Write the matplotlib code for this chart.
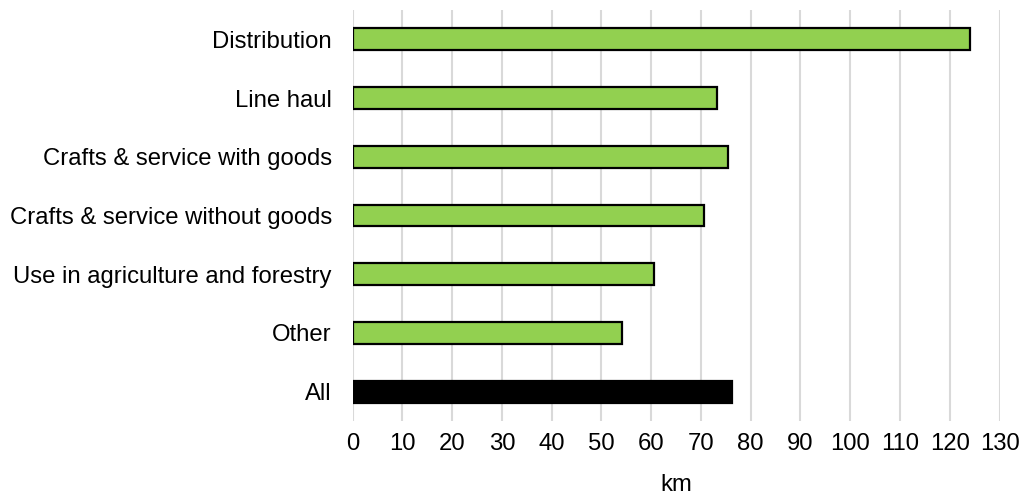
import matplotlib
matplotlib.use("Agg")
import matplotlib.pyplot as plt

categories = ["Distribution", "Line haul", "Crafts & service with goods",
              "Crafts & service without goods", "Use in agriculture and forestry",
              "Other", "All"]
values = [124, 73.3, 75.5, 70.6, 60.5, 54.2, 76.2]
colors = ["#92D050"] * 6 + ["#000000"]
xticks = list(range(0, 131, 10))

plt.rcParams['font.family'] = ['Liberation Sans', 'DejaVu Sans']
fig = plt.figure(figsize=(10.23, 4.95), dpi=100)
ax = fig.add_axes([352.7 / 1023, 1 - 421 / 495, (999.5 - 352.7) / 1023, (421 - 10) / 495])

ypos = list(range(len(categories)))
ax.barh(ypos, values, height=0.37, color=colors, edgecolor="black", linewidth=1.6, zorder=3)
ax.set_yticks(ypos)
ax.set_yticklabels(categories, fontsize=17.2)
ax.set_ylim(len(categories) - 0.5, -0.5)
ax.set_xlim(0, 130)
ax.set_xticks(xticks)
ax.set_xticklabels([str(t) for t in xticks], fontsize=17.2)
ax.set_xlabel("km", fontsize=17.2, labelpad=13)
ax.grid(axis="x", color="#D9D9D9", linewidth=1.5, zorder=0)
for s in ax.spines.values():
    s.set_visible(False)
ax.tick_params(axis="x", length=0, pad=9)
ax.tick_params(axis="y", length=0, pad=15)

fig.savefig("out.png", dpi=100)
